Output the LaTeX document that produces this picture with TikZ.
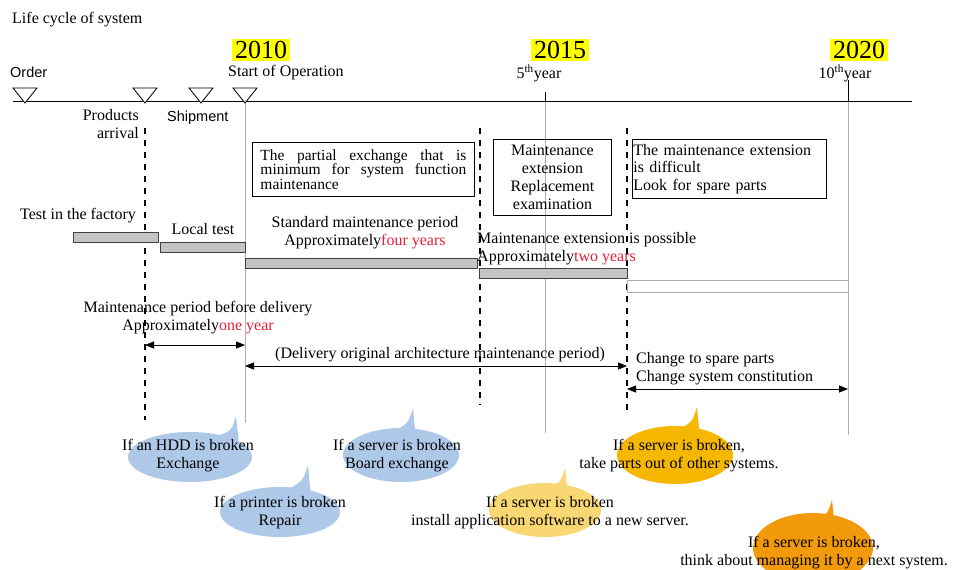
\documentclass[tikz,border=0pt]{standalone}
\usepackage{fontspec}
\setmainfont{Liberation Serif}
\newfontfamily\labelsans{Liberation Sans}
\usetikzlibrary{arrows.meta}
\definecolor{yearhl}{HTML}{FFFF00}
\definecolor{periodred}{HTML}{E3203A}
\definecolor{bubbleblue}{HTML}{AEC8E8}
\definecolor{bubblegold}{HTML}{F5B700}
\definecolor{bubblesand}{HTML}{F9D873}
\definecolor{bubbleorange}{HTML}{F29A0C}
\definecolor{barfill}{HTML}{C4C4C4}

% speech bubble: colour, centre x, centre y, x radius, y radius, tail tip x, tail tip y
\newcommand\talkbubble[7]{%
  \fill[#1] (#2,#3) ellipse [x radius=#4pt, y radius=#5pt];
  \fill[#1] ({#6-24},{#3-0.8*#5}) .. controls ({#6-5},{#7+16}) .. (#6,#7)
            -- ({#6+3},{#3-0.55*#5}) -- cycle;
}
% a line spread out to a fixed width
\newcommand\spreadline[1]{\leavevmode\hbox to 206pt{#1}}

\begin{document}
\begin{tikzpicture}[x=1pt,y=-1pt,
  txt/.style={inner sep=0pt, font=\fontsize{16}{18}\selectfont},
  sans/.style={inner sep=0pt, font=\labelsans\fontsize{14.5}{17}\selectfont},
  year/.style={fill=yearhl, inner xsep=3pt, inner ysep=2pt, font=\fontsize{26}{28}\selectfont},
  infobox/.style={draw, line width=0.9pt, anchor=north west, inner sep=0pt},
  bar/.style={fill=barfill, draw=black!75, line width=0.7pt},
  guide/.style={draw=gray!65, line width=0.6pt},
  phase/.style={draw=black, line width=2pt, dash pattern=on 6pt off 6pt},
  span/.style={line width=0.8pt, {Triangle[length=9pt,width=7pt]}-{Triangle[length=9pt,width=7pt]}},
  milestone/.style={draw, line width=0.8pt, fill=white},
]
\useasboundingbox (0,0) rectangle (953,570);
\clip (0,0) rectangle (953,570);

% ---- speech bubbles (background) ----
\talkbubble{bubbleblue}{190}{457}{62}{25}{236}{416}
\talkbubble{bubbleblue}{401}{455}{58}{27}{413}{408}
\talkbubble{bubbleblue}{280}{512}{60}{25}{308}{465}
\talkbubble{bubblegold}{675}{455}{58}{29}{697}{407}
\talkbubble{bubblesand}{545}{510}{56}{27}{565}{468}
\talkbubble{bubbleorange}{813}{548}{60}{35}{832}{500}

% ---- title and year markers ----
\node[txt, anchor=west] (title) at (12,20) {Life cycle of system};
\node[year] (y2010) at (261,50) {2010};
\node[year] (y2015) at (560,50) {2015};
\node[year] (y2020) at (859,50) {2020};
\node[sans, anchor=west] (lblorder) at (10,72) {Order};
\node[txt, anchor=west] (lblstart) at (228,73) {Start of Operation};
\node[txt] (lbl5) at (539,73) {5\textsuperscript{th}year};
\node[txt] (lbl10) at (845,73) {10\textsuperscript{th}year};

% ---- guide lines at the year marks ----
\coordinate (g10top) at (245,103);  \coordinate (g10bot) at (245,423);
\coordinate (g15top) at (545,92);   \coordinate (g15mid) at (545,101); \coordinate (g15bot) at (545,433);
\coordinate (g20top) at (848,80);   \coordinate (g20mid) at (848,101); \coordinate (g20bot) at (848,435);
\draw[guide] (g10top) -- (g10bot);
\draw[guide] (g15mid) -- (g15bot);
\draw[guide] (g20mid) -- (g20bot);
\draw[line width=0.8pt] (g15top) -- (g15mid);
\draw[line width=0.8pt] (g20top) -- (g20mid);

% ---- time axis and milestones ----
\coordinate (tlstart) at (13,101);
\coordinate (tlend) at (912,101);
\draw[line width=1pt] (tlstart) -- (tlend);
\foreach \n/\x in {order/25, arrival/145, ship/201, start/245}{
  \coordinate (ms-\n) at (\x,103);
  \draw[milestone] (ms-\n) -- ++(-12,-15) -- ++(24,0) -- cycle;
}
\node[txt, anchor=east, align=right] (lblarrival) at (139,124) {Products\\arrival};
\node[sans, anchor=west] (lblship) at (167,118) {Shipment};

% ---- phase boundaries ----
\coordinate (p1top) at (145,128); \coordinate (p1bot) at (145,420);
\coordinate (p2top) at (480,128); \coordinate (p2bot) at (480,405);
\coordinate (p3top) at (627,128); \coordinate (p3bot) at (627,412);
\draw[phase] (p1top) -- (p1bot);
\draw[phase] (p2top) -- (p2bot);
\draw[phase] (p3top) -- (p3bot);

% ---- notes ----
\node[infobox, minimum width=222pt, minimum height=54pt, text width=206pt,
      align=left, font=\fontsize{15.5}{14.5}\selectfont] (note1) at (252,142)
  {\spreadline{The\hfill partial\hfill exchange\hfill that\hfill is}\\
   \spreadline{minimum\hfill for\hfill system\hfill function}\\
   maintenance};
\node[infobox, minimum width=118pt, minimum height=76pt, align=center,
      font=\fontsize{16}{18}\selectfont] (note2) at (493,139)
  {Maintenance\\extension\\Replacement\\examination};
\node[infobox, minimum width=194pt, minimum height=59pt, text width=192pt,
      align=left, font=\fontsize{16}{17.5}\selectfont] (note3) at (632,139)
  {The maintenance extension\\is difficult\\Look for spare parts};

% ---- work periods ----
\node[txt, anchor=west] (lblfactory) at (20,216) {Test in the factory};
\draw[bar] (73,232) rectangle (158,242);
\node[txt] (lbllocal) at (203,229) {Local test};
\draw[bar] (160,242) rectangle (245,252);
\node[txt, align=center] (lblstd) at (365,233)
  {Standard maintenance period\\Approximately\textcolor{periodred}{four years}};
\draw[bar] (245,258) rectangle (477,268);
\node[txt, anchor=west, align=left] (lblext) at (477,249)
  {Maintenance extension is possible\\Approximately\textcolor{periodred}{two years}};
\draw[bar] (479,268) rectangle (627,278);
\draw[guide] (627,280) rectangle (848,292);

% ---- spans ----
\node[txt, align=center] (lblpre) at (198,318)
  {Maintenance period before delivery\\Approximately\textcolor{periodred}{one year}};
\coordinate (pre-l) at (145,345); \coordinate (pre-r) at (245,345);
\draw[span] (pre-l) -- (pre-r);
\node[txt] (lblorig) at (440,355) {(Delivery original architecture maintenance period)};
\coordinate (orig-l) at (245,366); \coordinate (orig-r) at (627,366);
\draw[span] (orig-l) -- (orig-r);
\node[txt, anchor=west, align=left] (lblchange) at (636,369)
  {Change to spare parts\\Change system constitution};
\coordinate (ext-l) at (627,389); \coordinate (ext-r) at (848,389);
\draw[span] (ext-l) -- (ext-r);

% ---- bubble texts ----
\node[txt, align=center] (bhdd) at (188,456) {If an HDD is broken\\Exchange};
\node[txt, align=center] (bboard) at (397,456) {If a server is broken\\Board exchange};
\node[txt, align=center] (bprinter) at (280,513) {If a printer is broken\\Repair};
\node[txt, align=center] (bparts) at (679,456) {If a server is broken,\\take parts out of other systems.};
\node[txt, align=center] (binstall) at (550,513) {If a server is broken\\install application software to a new server.};
\node[txt, align=center] (bnext) at (814,553) {If a server is broken,\\think about managing it by a next system.};
\end{tikzpicture}
\end{document}
